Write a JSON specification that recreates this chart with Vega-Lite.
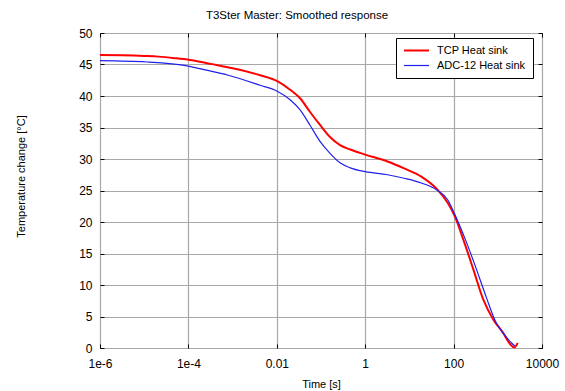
{
  "$schema": "https://vega.github.io/schema/vega-lite/v6.json",
  "width": 442,
  "height": 315,
  "autosize": {"type": "none"},
  "padding": {"left": 100, "top": 33, "right": 23, "bottom": 43},
  "background": "white",
  "title": {"text": "T3Ster Master: Smoothed response", "fontSize": 11.5, "fontWeight": "normal", "font": "Liberation Sans", "color": "#000", "offset": 6, "dx": -24},
  "config": {
    "view": {"stroke": "black", "strokeWidth": 1},
    "axis": {"labelFont": "Liberation Sans", "labelFontSize": 12, "labelColor": "#000", "titleFont": "Liberation Sans", "titleFontSize": 11, "titleFontWeight": "normal", "titleColor": "#000", "gridColor": "#a8a8a8", "gridWidth": 1.2, "gridOpacity": 1, "domain": false, "tickColor": "#000", "tickSize": -4}
  },
  "data": {"values": [
    {"t": 1e-6, "temp": 46.5, "series": "TCP Heat sink"},
    {"t": 3.16e-6, "temp": 46.45, "series": "TCP Heat sink"},
    {"t": 1e-5, "temp": 46.35, "series": "TCP Heat sink"},
    {"t": 2.1e-5, "temp": 46.25, "series": "TCP Heat sink"},
    {"t": 5e-5, "temp": 46.0, "series": "TCP Heat sink"},
    {"t": 1e-4, "temp": 45.75, "series": "TCP Heat sink"},
    {"t": 1.8e-4, "temp": 45.45, "series": "TCP Heat sink"},
    {"t": 3.2e-4, "temp": 45.1, "series": "TCP Heat sink"},
    {"t": 1e-3, "temp": 44.4, "series": "TCP Heat sink"},
    {"t": 4.2e-3, "temp": 43.3, "series": "TCP Heat sink"},
    {"t": 0.01, "temp": 42.4, "series": "TCP Heat sink"},
    {"t": 0.02, "temp": 41.0, "series": "TCP Heat sink"},
    {"t": 0.034, "temp": 39.6, "series": "TCP Heat sink"},
    {"t": 0.056, "temp": 37.5, "series": "TCP Heat sink"},
    {"t": 0.095, "temp": 35.4, "series": "TCP Heat sink"},
    {"t": 0.16, "temp": 33.5, "series": "TCP Heat sink"},
    {"t": 0.27, "temp": 32.2, "series": "TCP Heat sink"},
    {"t": 0.46, "temp": 31.5, "series": "TCP Heat sink"},
    {"t": 1, "temp": 30.7, "series": "TCP Heat sink"},
    {"t": 3.2, "temp": 29.6, "series": "TCP Heat sink"},
    {"t": 7.6, "temp": 28.5, "series": "TCP Heat sink"},
    {"t": 18.6, "temp": 27.2, "series": "TCP Heat sink"},
    {"t": 43.6, "temp": 25.1, "series": "TCP Heat sink"},
    {"t": 74, "temp": 23.0, "series": "TCP Heat sink"},
    {"t": 105, "temp": 21.0, "series": "TCP Heat sink"},
    {"t": 166, "temp": 17.2, "series": "TCP Heat sink"},
    {"t": 282, "temp": 12.4, "series": "TCP Heat sink"},
    {"t": 468, "temp": 7.7, "series": "TCP Heat sink"},
    {"t": 794, "temp": 4.5, "series": "TCP Heat sink"},
    {"t": 1318, "temp": 2.4, "series": "TCP Heat sink"},
    {"t": 1905, "temp": 0.6, "series": "TCP Heat sink"},
    {"t": 2344, "temp": 0.1, "series": "TCP Heat sink"},
    {"t": 2818, "temp": 0.8, "series": "TCP Heat sink"},
    {"t": 1e-6, "temp": 45.6, "series": "ADC-12 Heat sink"},
    {"t": 1.15e-5, "temp": 45.4, "series": "ADC-12 Heat sink"},
    {"t": 1e-4, "temp": 44.75, "series": "ADC-12 Heat sink"},
    {"t": 1.8e-4, "temp": 44.35, "series": "ADC-12 Heat sink"},
    {"t": 8e-4, "temp": 43.3, "series": "ADC-12 Heat sink"},
    {"t": 4.2e-3, "temp": 41.7, "series": "ADC-12 Heat sink"},
    {"t": 0.01, "temp": 40.8, "series": "ADC-12 Heat sink"},
    {"t": 0.02, "temp": 39.4, "series": "ADC-12 Heat sink"},
    {"t": 0.034, "temp": 37.75, "series": "ADC-12 Heat sink"},
    {"t": 0.056, "temp": 35.4, "series": "ADC-12 Heat sink"},
    {"t": 0.095, "temp": 32.8, "series": "ADC-12 Heat sink"},
    {"t": 0.16, "temp": 30.9, "series": "ADC-12 Heat sink"},
    {"t": 0.27, "temp": 29.4, "series": "ADC-12 Heat sink"},
    {"t": 0.46, "temp": 28.6, "series": "ADC-12 Heat sink"},
    {"t": 1, "temp": 28.0, "series": "ADC-12 Heat sink"},
    {"t": 3.2, "temp": 27.5, "series": "ADC-12 Heat sink"},
    {"t": 7.6, "temp": 26.95, "series": "ADC-12 Heat sink"},
    {"t": 18.6, "temp": 26.2, "series": "ADC-12 Heat sink"},
    {"t": 43.6, "temp": 25.0, "series": "ADC-12 Heat sink"},
    {"t": 74, "temp": 23.5, "series": "ADC-12 Heat sink"},
    {"t": 105, "temp": 21.3, "series": "ADC-12 Heat sink"},
    {"t": 185, "temp": 17.2, "series": "ADC-12 Heat sink"},
    {"t": 310, "temp": 13.0, "series": "ADC-12 Heat sink"},
    {"t": 540, "temp": 8.2, "series": "ADC-12 Heat sink"},
    {"t": 920, "temp": 4.0, "series": "ADC-12 Heat sink"},
    {"t": 1318, "temp": 2.4, "series": "ADC-12 Heat sink"},
    {"t": 2040, "temp": 0.8, "series": "ADC-12 Heat sink"},
    {"t": 2455, "temp": 0.3, "series": "ADC-12 Heat sink"}
  ]},
  "layer": [
    {
      "mark": {"type": "line", "interpolate": "monotone"},
      "encoding": {
        "x": {"field": "t", "type": "quantitative", "scale": {"type": "log", "domain": [1e-6, 10000], "nice": false}, "axis": {"title": "Time [s]", "grid": true, "values": [1e-6, 1e-4, 0.01, 1, 100, 10000], "labelExpr": "datum.value < 1e-5 ? '1e-6' : datum.value < 1e-3 ? '1e-4' : format(datum.value, '~g')", "labelPadding": 14, "labelFlush": false, "titleY": 36, "titleBaseline": "middle"}},
        "y": {"field": "temp", "type": "quantitative", "scale": {"domain": [0, 50], "nice": false, "zero": false}, "axis": {"title": "Temperature change [°C]", "grid": true, "values": [0, 5, 10, 15, 20, 25, 30, 35, 40, 45, 50], "labelPadding": 12, "titleX": -79, "titleY": 143, "titleBaseline": "middle"}},
        "color": {"field": "series", "type": "nominal", "scale": {"domain": ["TCP Heat sink", "ADC-12 Heat sink"], "range": ["#ff0000", "#2020ee"]}, "legend": {"title": null, "orient": "none", "legendX": 296, "legendY": 5, "padding": 7, "strokeColor": "#000", "fillColor": "#fff", "symbolType": "M-1.8,0H8.2", "symbolSize": 25, "symbolStrokeWidth": 1.5, "labelFont": "Liberation Sans", "labelFontSize": 11, "labelColor": "#000", "rowPadding": 3, "labelOffset": 23}},
        "strokeWidth": {"field": "series", "type": "nominal", "scale": {"domain": ["TCP Heat sink", "ADC-12 Heat sink"], "range": [2, 1.2]}, "legend": null}
      }
    },
    {
      "mark": {"type": "line", "opacity": 0},
      "encoding": {
        "x": {"field": "t", "type": "quantitative", "axis": {"orient": "top", "title": null, "labels": false, "grid": false, "values": [1e-6, 1e-4, 0.01, 1, 100, 10000]}},
        "y": {"field": "temp", "type": "quantitative", "axis": {"orient": "right", "title": null, "labels": false, "grid": false, "values": [0, 5, 10, 15, 20, 25, 30, 35, 40, 45, 50]}},
        "detail": {"field": "series"}
      }
    }
  ],
  "resolve": {"axis": {"x": "independent", "y": "independent"}}
}
